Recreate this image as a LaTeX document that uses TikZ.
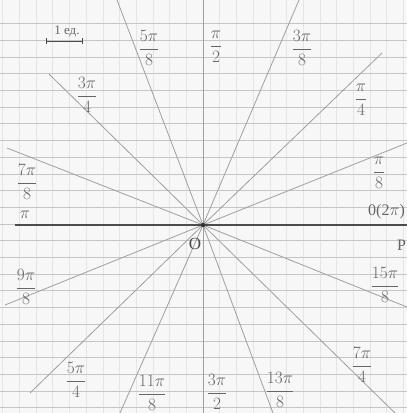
\documentclass[tikz,border=0pt]{standalone}
\usepackage{fontspec}
\usepackage{amsmath}
\setmainfont{Liberation Serif}
\begin{document}
\begin{tikzpicture}[x=1pt,y=-1pt,
  hgrid/.style={draw=gray!45,line width=0.7pt},
  vgrid/.style={draw=gray!20,line width=0.6pt},
  ray/.style={draw=gray!75,line width=0.8pt},
  axisline/.style={draw=black!70,line width=1.1pt},
  lbl/.style={text=black!60,font=\fontsize{16}{18}\selectfont,inner sep=0pt}]
\useasboundingbox (0,0) rectangle (407,413);
\clip (0,0) rectangle (407,413);
\fill[black!3] (0,0) rectangle (407,413);
% grid
\foreach \k in {-13,...,12} {\draw[vgrid] ({203+16.7*\k},0) -- ({203+16.7*\k},413);}
\foreach \k in {-12,...,12} {\draw[hgrid] (0,{224+16.7*\k}) -- (407,{224+16.7*\k});}
% origin and ray ends
\coordinate (O) at (203,225);
\coordinate (e1) at (407,143);
\coordinate (e2) at (382,53);
\coordinate (e3) at (299,0);
\coordinate (e4) at (203,0);
\coordinate (e5) at (117,0);
\coordinate (e6) at (49,74);
\coordinate (e7) at (7,148);
\coordinate (e8) at (15,225);
\coordinate (e9) at (5,305);
\coordinate (e10) at (30,393);
\coordinate (e11) at (120,413);
\coordinate (e12) at (203,413);
\coordinate (e13) at (273,413);
\coordinate (e14) at (395,413);
\coordinate (e15) at (407,307);
\coordinate (e0) at (407,225);
\foreach \i in {1,2,3,4,5,6,7,9,10,11,12,13,14,15} {\draw[ray] (O) -- (e\i);}
\draw[axisline] (e8) -- (e0);
\fill[black!80] (O) circle (2.2pt);
% scale bar
\coordinate (s1) at (46,41);
\coordinate (s2) at (82,41);
\draw[black!70,line width=1pt] (s1) -- (s2);
\draw[black!70,line width=0.9pt] ([yshift=-3pt]s1) -- ([yshift=3pt]s1);
\draw[black!70,line width=0.9pt] ([yshift=-3pt]s2) -- ([yshift=3pt]s2);
\node[lbl,font=\fontsize{13}{14}\selectfont] (unit) at (67,31) {1 ед.};
% labels
\node[lbl] (l1) at (379,173) {$\dfrac{\pi}{8}$};
\node[lbl] (l2) at (361,100) {$\dfrac{\pi}{4}$};
\node[lbl] (l3) at (302,48) {$\dfrac{3\pi}{8}$};
\node[lbl] (l4) at (216,47) {$\dfrac{\pi}{2}$};
\node[lbl] (l5) at (149,48) {$\dfrac{5\pi}{8}$};
\node[lbl] (l6) at (87,95) {$\dfrac{3\pi}{4}$};
\node[lbl] (l7) at (27,182) {$\dfrac{7\pi}{8}$};
\node[lbl] (l8) at (25,215) {$\pi$};
\node[lbl] (l9) at (26,287) {$\dfrac{9\pi}{8}$};
\node[lbl] (l10) at (76,380) {$\dfrac{5\pi}{4}$};
\node[lbl] (l11) at (152,393) {$\dfrac{11\pi}{8}$};
\node[lbl] (l12) at (217,392) {$\dfrac{3\pi}{2}$};
\node[lbl] (l13) at (280,390) {$\dfrac{13\pi}{8}$};
\node[lbl] (l14) at (362,365) {$\dfrac{7\pi}{4}$};
\node[lbl] (l15) at (385,285) {$\dfrac{15\pi}{8}$};
\node[lbl,anchor=west] (l0) at (368,212) {0(2$\pi$)};
\node[lbl,anchor=west] (P) at (397,245) {P};
\node[lbl,text=black!70,font=\fontsize{17}{18}\selectfont] (Olbl) at (195,244) {O};
\end{tikzpicture}
\end{document}
